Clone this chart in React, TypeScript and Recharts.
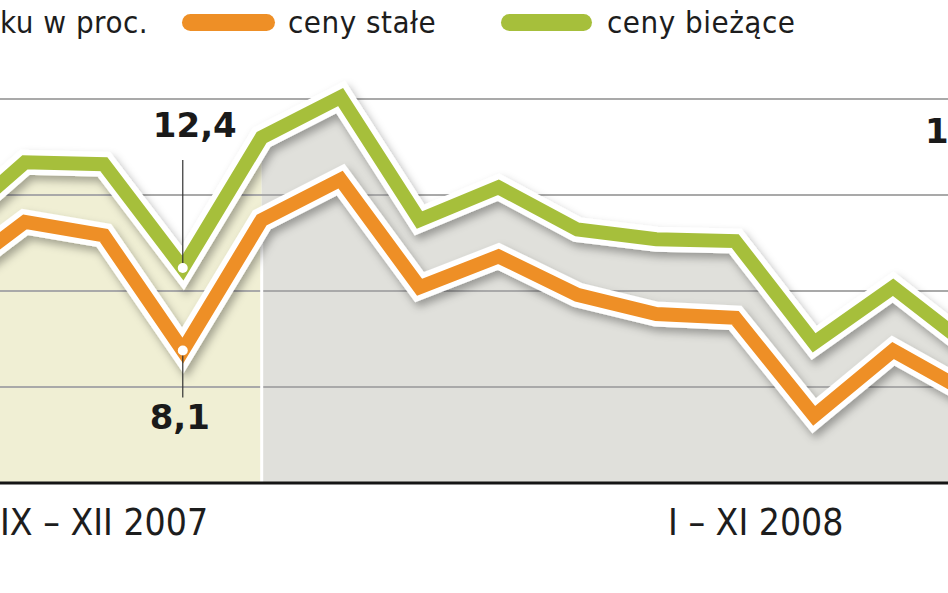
import React from "react";
import {
  ComposedChart,
  Line,
  Area,
  XAxis,
  YAxis,
  ReferenceLine,
} from "recharts";

// miesiące widoczne na wycinku wykresu
const months = [
  "IX 2007", "X 2007", "XI 2007", "XII 2007",
  "I 2008", "II 2008", "III 2008", "IV 2008", "V 2008",
  "VI 2008", "VII 2008", "VIII 2008", "IX 2008", "X 2008",
];
const cenyBiezace = [14.3, 17.9, 17.8, 12.4, 19.2, 21.3, 14.9, 16.6, 14.4, 13.9, 13.8, 8.5, 11.4, 8.2];
const cenyStale = [11.7, 14.8, 14.1, 8.1, 14.9, 17.0, 11.4, 13.0, 11.0, 10.0, 9.8, 4.7, 8.1, 5.8];
const gridValues = [6.2, 11.2, 16.2, 21.2];
const Y_MIN = 1.2;
const Y_MAX = 26.2;
const SPLIT = 4; // pierwszy punkt 2008
const MARKED = 3; // XII 2007, opisany punkt

const GREEN = "#a6bf3b";
const ORANGE = "#ee8f26";
const FONT = "'DejaVu Sans Condensed', 'DejaVu Sans', sans-serif";
const BOLD = "'DejaVu Sans', sans-serif";

const data = months.map((m, i) => ({
  month: m,
  biezace: cenyBiezace[i],
  stale: cenyStale[i],
  fill2007: i <= SPLIT ? cenyBiezace[i] : null,
  fill2008: i >= SPLIT ? cenyBiezace[i] : null,
}));

const markerDot = (props: any) => {
  const { cx, cy, index } = props;
  if (index !== MARKED) return <g key={`d${index}`} />;
  return <circle key={`d${index}`} cx={cx} cy={cy} r={5} fill="#fff" />;
};

const topLabel = (props: any) => {
  const { x, y, index, value } = props;
  if (index !== MARKED) return <g key={`l${index}`} />;
  return (
    <g key={`l${index}`}>
      <line x1={x} x2={x} y1={y - 108} y2={y - 5} stroke="#333" strokeWidth={1.2} />
      <text x={x + 12} y={y - 131} textAnchor="middle" fontFamily={BOLD} fontWeight={700} fontSize={34} fill="#1a1a1a">
        {String(value).replace(".", ",")}
      </text>
    </g>
  );
};

const bottomLabel = (props: any) => {
  const { x, y, index, value } = props;
  if (index !== MARKED) return <g key={`l${index}`} />;
  return (
    <g key={`l${index}`}>
      <line x1={x} x2={x} y1={y + 5} y2={y + 47} stroke="#333" strokeWidth={1.2} />
      <text x={x - 3} y={y + 78} textAnchor="middle" fontFamily={BOLD} fontWeight={700} fontSize={34} fill="#1a1a1a">
        {String(value).replace(".", ",")}
      </text>
    </g>
  );
};

export default function App() {
  return (
    <div style={{ position: "absolute", left: 0, top: 0, width: 948, height: 593, overflow: "hidden", background: "#fff" }}>
      <svg width={0} height={0} style={{ position: "absolute" }}>
        <defs>
          <filter id="lineShadow" filterUnits="userSpaceOnUse" x={-300} y={-300} width={1800} height={1200}>
            <feGaussianBlur in="SourceAlpha" stdDeviation={4} />
            <feOffset dx={3} dy={5} result="blur" />
            <feFlood floodColor="#000" floodOpacity={0.32} />
            <feComposite in2="blur" operator="in" />
            <feMerge>
              <feMergeNode />
              <feMergeNode in="SourceGraphic" />
            </feMerge>
          </filter>
        </defs>
      </svg>
      <div style={{ position: "absolute", left: -100, top: 0 }}>
        <ComposedChart width={1120} height={593} data={data} margin={{ top: 3, right: 0, bottom: 110, left: 0 }}>
          <XAxis
            dataKey="month"
            height={0}
            tick={false}
            tickLine={false}
            axisLine={false}
            padding={{ left: 46, right: 48 }}
          />
          <YAxis hide domain={[Y_MIN, Y_MAX]} allowDataOverflow />
          <Area dataKey="fill2007" type="linear" baseValue={Y_MIN} fill="#f0efd4" fillOpacity={1} stroke="none" isAnimationActive={false} />
          <Area dataKey="fill2008" type="linear" baseValue={Y_MIN} fill="#e0e0db" fillOpacity={1} stroke="none" isAnimationActive={false} />
          {gridValues.map((v) => (
            <ReferenceLine key={v} y={v} stroke="#a9a9a9" strokeWidth={2} />
          ))}
          <ReferenceLine
            segment={[{ x: months[SPLIT], y: Y_MIN }, { x: months[SPLIT], y: cenyStale[SPLIT] }]}
            stroke="#fff"
            strokeWidth={3}
          />
          <ReferenceLine y={Y_MIN} stroke="#151515" strokeWidth={3} />
          <Line dataKey="biezace" type="linear" stroke="#fff" strokeWidth={25} dot={false} activeDot={false} filter="url(#lineShadow)" isAnimationActive={false} legendType="none" />
          <Line dataKey="biezace" type="linear" stroke={GREEN} strokeWidth={14} dot={markerDot} activeDot={false} label={topLabel} isAnimationActive={false} />
          <Line dataKey="stale" type="linear" stroke="#fff" strokeWidth={25} dot={false} activeDot={false} filter="url(#lineShadow)" isAnimationActive={false} legendType="none" />
          <Line dataKey="stale" type="linear" stroke={ORANGE} strokeWidth={14} dot={markerDot} activeDot={false} label={bottomLabel} isAnimationActive={false} />
        </ComposedChart>
      </div>
      <svg width={948} height={593} style={{ position: "absolute", left: 0, top: 0, pointerEvents: "none" }}>
        <text x={0} y={33} fontFamily={FONT} fontSize={31} letterSpacing={0.5} fill="#1d1d1d">ku w proc.</text>
        <rect x={182} y={14} width={93} height={17} rx={8.5} fill={ORANGE} />
        <text x={288} y={33} fontFamily={FONT} fontSize={31} letterSpacing={0.5} fill="#1d1d1d">ceny stałe</text>
        <rect x={501} y={14} width={91} height={17} rx={8.5} fill={GREEN} />
        <text x={607} y={33} fontFamily={FONT} fontSize={31} letterSpacing={0.5} fill="#1d1d1d">ceny bieżące</text>
        <text x={925} y={143} fontFamily={BOLD} fontWeight={700} fontSize={34} fill="#1a1a1a">1</text>
        <text x={0} y={535} fontFamily={FONT} fontSize={37} fill="#1d1d1d">IX – XII 2007</text>
        <text x={668} y={535} fontFamily={FONT} fontSize={37} fill="#1d1d1d">I – XI 2008</text>
      </svg>
    </div>
  );
}
